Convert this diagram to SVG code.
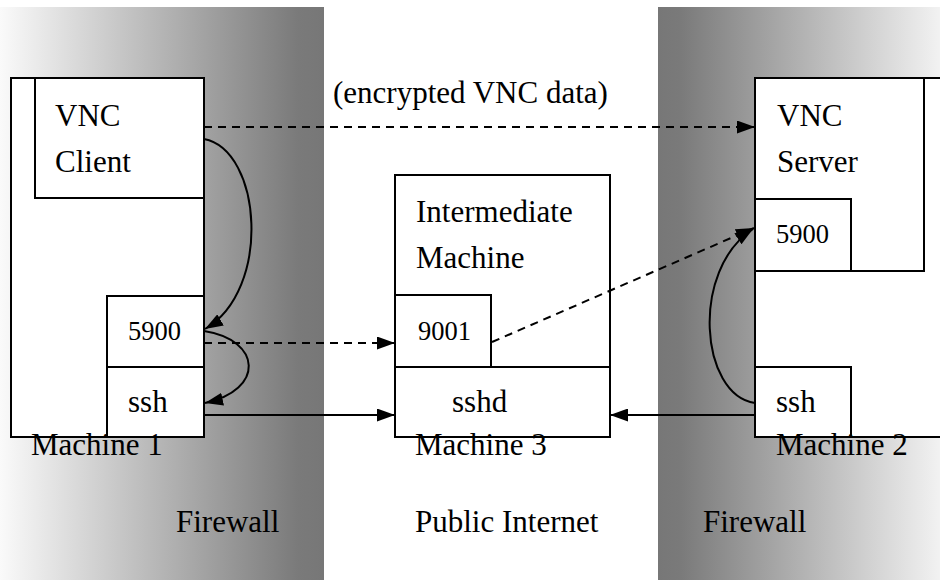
<svg xmlns="http://www.w3.org/2000/svg" width="940" height="580" viewBox="0 0 940 580">
<style>
.box{fill:#fff;stroke:#000;stroke-width:2}
.t{font-family:'Liberation Serif','DejaVu Serif',serif;font-size:31px;fill:#000}
.s{font-family:'Liberation Serif','DejaVu Serif',serif;font-size:26.5px;fill:#000}
.ln{fill:none;stroke:#000;stroke-width:2}
.d{stroke-dasharray:8 6}
</style>
<defs>
<linearGradient id="gl" x1="0" y1="0" x2="324" y2="0" gradientUnits="userSpaceOnUse">
<stop offset="0" stop-color="#fafafa"/><stop offset="0.92" stop-color="#7a7a7a"/><stop offset="1" stop-color="#777"/>
</linearGradient>
<linearGradient id="gr" x1="658" y1="0" x2="940" y2="0" gradientUnits="userSpaceOnUse">
<stop offset="0" stop-color="#777"/><stop offset="0.08" stop-color="#7a7a7a"/><stop offset="1" stop-color="#f2f2f2"/>
</linearGradient>
<marker id="ahb" viewBox="0 0 18 13" refX="18" refY="6.5" markerWidth="18" markerHeight="13" markerUnits="userSpaceOnUse" orient="auto"><path d="M0,0L18,6.5L0,13z" fill="#000"/></marker>
</defs>
<g id="firewalls">
<rect x="0" y="7" width="324" height="573" fill="url(#gl)"/>
<rect x="658" y="7" width="282" height="573" fill="url(#gr)"/>
</g>
<g id="machine1">
<rect class="box" x="11" y="78" width="193" height="359"/>
<rect class="box" x="35" y="78" width="169" height="120"/>
<text class="t" x="55" y="126">VNC</text>
<text class="t" x="55" y="172">Client</text>
<rect class="box" x="107" y="296" width="97" height="71"/>
<text class="s" x="128" y="340">5900</text>
<rect class="box" x="107" y="367" width="97" height="70"/>
<text class="t" x="128" y="412">ssh</text>
<text class="t" x="31" y="455">Machine 1</text>
</g>
<g id="machine3">
<rect class="box" x="395" y="175" width="215" height="262"/>
<text class="t" x="416" y="222">Intermediate</text>
<text class="t" x="416" y="268">Machine</text>
<rect class="box" x="395" y="295" width="96" height="72"/>
<text class="s" x="418" y="340">9001</text>
<rect class="box" x="395" y="367" width="215" height="70"/>
<text class="t" x="452" y="412">sshd</text>
<text class="t" x="415" y="455">Machine 3</text>
</g>
<g id="machine2">
<rect class="box" x="755" y="78" width="195" height="359"/>
<rect class="box" x="755" y="78" width="169" height="193"/>
<text class="t" x="777" y="126">VNC</text>
<text class="t" x="777" y="172">Server</text>
<rect class="box" x="755" y="199" width="96" height="72"/>
<text class="s" x="776" y="243">5900</text>
<rect class="box" x="755" y="367" width="96" height="70"/>
<text class="t" x="776" y="412">ssh</text>
<text class="t" x="776" y="455">Machine 2</text>
</g>
<g id="labels">
<text class="t" x="333" y="103">(encrypted VNC data)</text>
<text class="t" x="176" y="532">Firewall</text>
<text class="t" x="415" y="532">Public Internet</text>
<text class="t" x="703" y="532">Firewall</text>
</g>
<g id="connectors">
<path class="ln d" d="M204,127H755" marker-end="url(#ahb)"/>
<path class="ln" d="M204,139C262,150 272,290 205,329" marker-end="url(#ahb)"/>
<path class="ln" d="M204,331C262,340 265,390 205,403" marker-end="url(#ahb)"/>
<path class="ln d" d="M204,343H395" marker-end="url(#ahb)"/>
<path class="ln" d="M204,415H395" marker-end="url(#ahb)"/>
<path class="ln d" d="M492,342L754,228" marker-end="url(#ahb)"/>
<path class="ln" d="M755,415H610" marker-end="url(#ahb)"/>
<path class="ln" d="M755,403C700,395 690,270 753,229" marker-end="url(#ahb)"/>
</g>
</svg>
